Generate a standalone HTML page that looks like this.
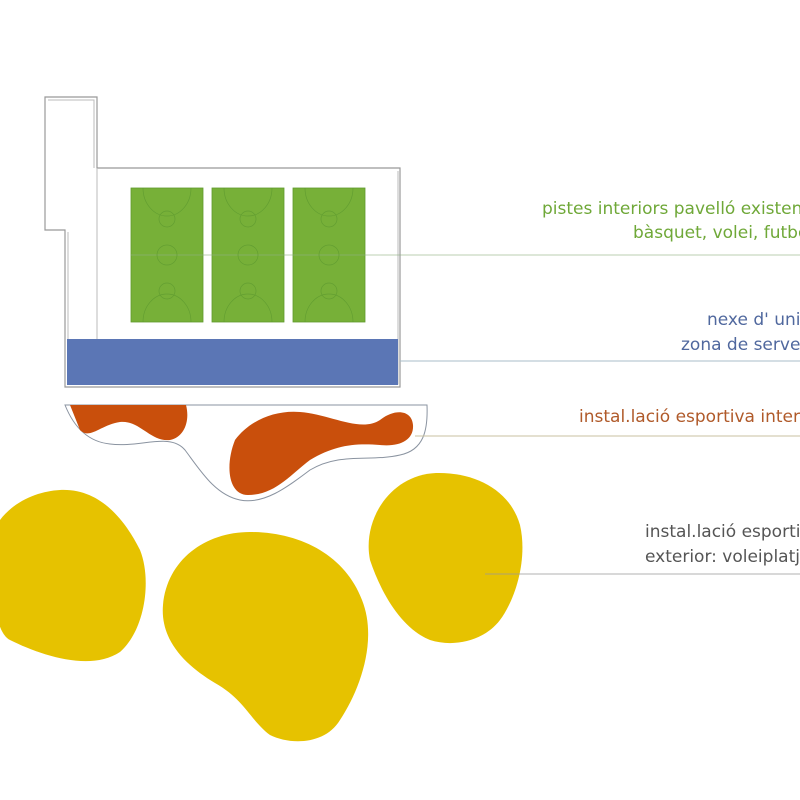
<!DOCTYPE html>
<html><head><meta charset="utf-8"><style>
html,body{margin:0;padding:0;background:#fff;width:800px;height:800px;overflow:hidden}
svg{display:block}
text{font-family:"DejaVu Sans","Liberation Sans",sans-serif;font-size:17px}
</style></head><body>
<svg width="800" height="800" viewBox="0 0 800 800">
<path d="M45,97 H97 V168 H400 V387 H65 V230 H45 Z" fill="#fff" stroke="#999" stroke-width="1.2"/>
<path d="M48,100 H94 V168 M68,232 V384 H398 V171" fill="none" stroke="#bbb" stroke-width="1"/>
<line x1="97" y1="168" x2="97" y2="340" stroke="#bbb"/>
<g fill="#77b038" stroke="#5f9a2c" stroke-width="0.8">
<rect x="131" y="188" width="72" height="134"/>
<rect x="212" y="188" width="72" height="134"/>
<rect x="293" y="188" width="72" height="134"/>
</g>
<g fill="none" stroke="#5e9a30" stroke-width="0.7" opacity="0.8">
<line x1="131" y1="255" x2="800" y2="255" stroke="#8fb080"/>
<circle cx="167" cy="255" r="10"/><circle cx="248" cy="255" r="10"/><circle cx="329" cy="255" r="10"/>
<path d="M143,188 A24,28 0 0 0 191,188 M224,188 A24,28 0 0 0 272,188 M305,188 A24,28 0 0 0 353,188"/>
<path d="M143,322 A24,28 0 0 1 191,322 M224,322 A24,28 0 0 1 272,322 M305,322 A24,28 0 0 1 353,322"/>
<circle cx="167" cy="219" r="8"/><circle cx="248" cy="219" r="8"/><circle cx="329" cy="219" r="8"/>
<circle cx="167" cy="291" r="8"/><circle cx="248" cy="291" r="8"/><circle cx="329" cy="291" r="8"/>
</g>
<rect x="67" y="339" width="331" height="46" fill="#5b76b5"/>
<line x1="400" y1="361" x2="800" y2="361" stroke="#a8bcc8"/>
<path d="M65,405 H427 C428,430 424,450 400,455 C370,462 340,452 310,470 C290,485 265,505 240,500 C215,495 200,470 185,450 C170,432 140,448 110,444 C90,442 75,430 65,405 Z" fill="#fff" stroke="#8a93a0" stroke-width="1"/>
<path d="M70,405 H186 C190,420 185,437 170,440 C150,442 140,420 120,422 C100,425 90,440 80,430 Z" fill="#c94f0c"/>
<path d="M235,440 C250,420 275,410 300,412 C330,414 360,433 380,420 C395,408 412,410 413,425 C414,440 400,447 380,445 C355,443 335,445 310,460 C290,475 275,495 248,495 C228,495 225,465 235,440 Z" fill="#c94f0c"/>
<line x1="415" y1="436" x2="800" y2="436" stroke="#c8c0a0"/>
<g fill="#e6c200">
<path d="M60,490 C100,488 125,520 140,550 C152,580 145,630 120,652 C90,672 40,655 10,640 C-10,630 -10,560 0,520 C15,500 40,491 60,490 Z"/>
<path d="M250,532 C300,532 345,555 362,600 C378,640 360,690 340,720 C325,745 290,745 270,735 C250,720 245,700 215,683 C185,665 160,640 163,605 C167,560 205,532 250,532 Z"/>
<path d="M436,473 C475,472 510,490 520,525 C528,560 515,600 500,620 C485,640 455,648 430,640 C400,628 380,590 370,560 C362,520 390,475 436,473 Z"/>
</g>
<line x1="485" y1="574" x2="800" y2="574" stroke="#999" stroke-width="0.8"/>
<text x="542" y="214" fill="#6fa838">pistes interiors pavelló existent</text>
<text x="633" y="238" fill="#6fa838">bàsquet, volei, futbol</text>
<text x="707" y="325" fill="#50689e">nexe d' unió</text>
<text x="681" y="350" fill="#50689e">zona de serveis</text>
<text x="579" y="422" fill="#b05a2a">instal.lació esportiva interior</text>
<text x="645" y="537" fill="#555">instal.lació esportiva</text>
<text x="645" y="562" fill="#555">exterior: voleiplatja</text>
</svg>
</body></html>
